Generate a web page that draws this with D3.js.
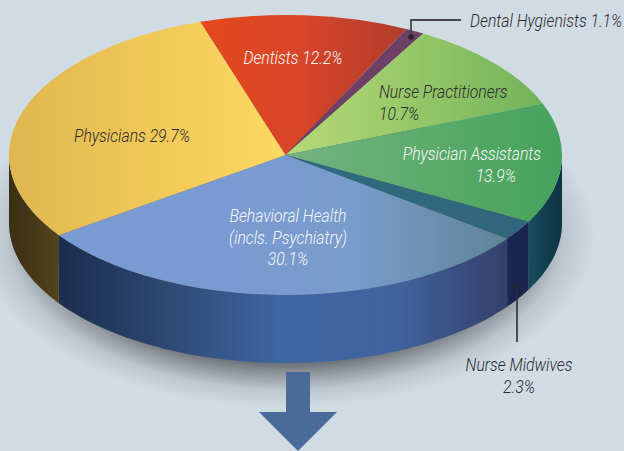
<!DOCTYPE html>
<html>
<head>
<meta charset="utf-8">
<script src="https://cdn.jsdelivr.net/npm/d3@7"></script>
<style>
  html, body { margin: 0; padding: 0; background: #d0dbe4; overflow: hidden; }
  svg { display: block; }
  text { font-family: Roboto, "Liberation Sans", sans-serif; font-style: italic; font-weight: 300; font-size: 18px; }
</style>
</head>
<body>
<div id="chart"></div>
<script>
// Workforce shares, clockwise from the Physicians/Dentists boundary
const categories = ["Dentists", "Dental Hygienists", "Nurse Practitioners", "Physician Assistants",
  "Nurse Midwives", "Behavioral Health", "Physicians"];
const shares = [12.2, 1.1, 10.7, 13.9, 2.3, 30.1, 29.7];

// Colours of the top face of each slice, left to right
const topColors = [
  ["#e4491d", "#d8452a", "#b03c2b"],
  ["#6e4066", "#6e4066"],
  ["#b6da75", "#96c768", "#72b25b"],
  ["#74b383", "#5cab6c", "#45a25c"],
  ["#2f6a80", "#31667c"],
  ["#7a9ad2", "#7a9ad2", "#789ccb", "#5f8496"],
  ["#dfb64f", "#f0c858", "#fdd862"]
];
// Colours of the wall of each slice, left to right
const wallColors = [
  [], [], [],
  ["#184d5e", "#113e4e", "#0e3344"],
  ["#1a2650", "#1a2650"],
  ["#1a2d4e", "#2f4a74", "#3f66a4", "#41639d", "#34406c"],
  ["#3b2f14", "#463818", "#55441d"]
];
// Shadow colours from the wall outwards
const shadowStops = [0.72, 0.8, 0.9, 1];
const shadowColors = ["#5e6368", "#8b9197", "#bcc6ce", "#d0dbe4"];

const width = 624, height = 451;
const cx = 285.5, cy = 155, rx = 276.5, ry = 140, depth = 68;
const startAngle = -18 * Math.PI / 180;
const squeeze = 0.875; // condensed type

const svg = d3.select("#chart").append("svg")
  .attr("width", width)
  .attr("height", height);

const defs = svg.append("defs");

const arcs = d3.pie().sort(null).startAngle(startAngle).endAngle(startAngle + 2 * Math.PI)(shares);

// Unit circle angles onto the flattened pie
const xOf = t => cx + rx * Math.sin(t);
const yOf = t => cy - ry * Math.cos(t);

function addGradient(id, stops, x1, x2) {
  const g = defs.append("linearGradient").attr("id", id)
    .attr("gradientUnits", "userSpaceOnUse")
    .attr("x1", x1).attr("x2", x2).attr("y1", 0).attr("y2", 0);
  stops.forEach((c, i) => {
    g.append("stop").attr("offset", i / (stops.length - 1)).attr("stop-color", c);
  });
}

// Horizontal extent of a slice's outline, centre included
function extent(a) {
  const ts = d3.range(0, 61).map(i => a.startAngle + (a.endAngle - a.startAngle) * i / 60);
  return d3.extent(ts.map(xOf).concat([cx]));
}

// Shadow under the body of the pie
const shadow = defs.append("radialGradient").attr("id", "pieShadow");
shadowStops.forEach((o, i) => {
  shadow.append("stop").attr("offset", o).attr("stop-color", shadowColors[i]);
});
svg.append("ellipse")
  .attr("cx", cx).attr("cy", cy + 80)
  .attr("rx", 310).attr("ry", 172)
  .attr("fill", "url(#pieShadow)");

// Walls, only the part of each slice on the front half
const front = arcs.map((a, i) => ({
  i,
  a0: Math.max(a.startAngle, Math.PI / 2),
  a1: Math.min(a.endAngle, 3 * Math.PI / 2)
})).filter(d => d.a1 > d.a0);

front.forEach(d => {
  addGradient("wall" + d.i, wallColors[d.i], xOf(d.a1), xOf(d.a0));
});

svg.selectAll("path.wall")
  .data(front)
  .enter()
  .append("path")
  .attr("class", "wall")
  .attr("fill", d => "url(#wall" + d.i + ")")
  .attr("d", d => {
    const ts = d3.range(0, 61).map(i => d.a0 + (d.a1 - d.a0) * i / 60);
    const low = ts.map(t => [xOf(t), yOf(t) + depth]);
    const up = ts.slice().reverse().map(t => [xOf(t), yOf(t)]);
    return d3.line()(low.concat(up)) + "Z";
  });

// Top face, drawn with a plain arc and flattened
arcs.forEach((a, i) => {
  const e = extent(a);
  addGradient("top" + i, topColors[i], e[0] - cx, e[1] - cx);
});

const arc = d3.arc().innerRadius(0).outerRadius(rx);

svg.append("g")
  .attr("transform", "translate(" + cx + "," + cy + ") scale(1," + (ry / rx) + ")")
  .selectAll("path")
  .data(arcs)
  .enter()
  .append("path")
  .attr("d", arc)
  .attr("fill", (d, i) => "url(#top" + i + ")");

// Arrow below the pie
svg.append("path")
  .attr("d", "M286,372H310V412H337L298,451L259,412H286Z")
  .attr("fill", "#4a6b9a");

// Leader lines
svg.append("path")
  .attr("d", "M411,37V20H461")
  .attr("fill", "none").attr("stroke", "#45484f").attr("stroke-width", 1.8);
svg.append("circle").attr("cx", 411).attr("cy", 37).attr("r", 2.7).attr("fill", "#26262c");
svg.append("path")
  .attr("d", "M517,287V342")
  .attr("fill", "none").attr("stroke", "#2c2c34").attr("stroke-width", 1.6);
svg.append("circle").attr("cx", 517).attr("cy", 287).attr("r", 2.7).attr("fill", "#26262c");

// Labels
const dark = "#2b2b30", light = "#f7f8f6";
const pct = i => shares[i].toFixed(1) + "%";
const labels = [
  { lines: [categories[0] + " " + pct(0)], x: 293, y: 64, anchor: "middle", fill: light },
  { lines: [categories[1] + " " + pct(1)], x: 470, y: 27, anchor: "start", fill: dark },
  { lines: [categories[2], pct(2)], x: 379, y: 98, anchor: "start", fill: dark },
  { lines: [categories[3]], x: 541, y: 160, anchor: "end", fill: light },
  { lines: [pct(3)], x: 516, y: 182, anchor: "end", fill: light },
  { lines: [categories[4], pct(4)], x: 519, y: 371, anchor: "middle", fill: dark },
  { lines: [categories[5], "(incls. Psychiatry)", pct(5)], x: 288, y: 222, anchor: "middle", fill: light },
  { lines: [categories[6] + " " + pct(6)], x: 74, y: 142, anchor: "start", fill: dark }
];

labels.forEach(l => {
  l.lines.forEach((s, k) => {
    svg.append("text")
      .attr("transform", "translate(" + l.x + "," + (l.y + k * 21.5) + ") scale(" + squeeze + ",1)")
      .attr("text-anchor", l.anchor)
      .attr("fill", l.fill)
      .text(s);
  });
});
</script>
</body>
</html>
